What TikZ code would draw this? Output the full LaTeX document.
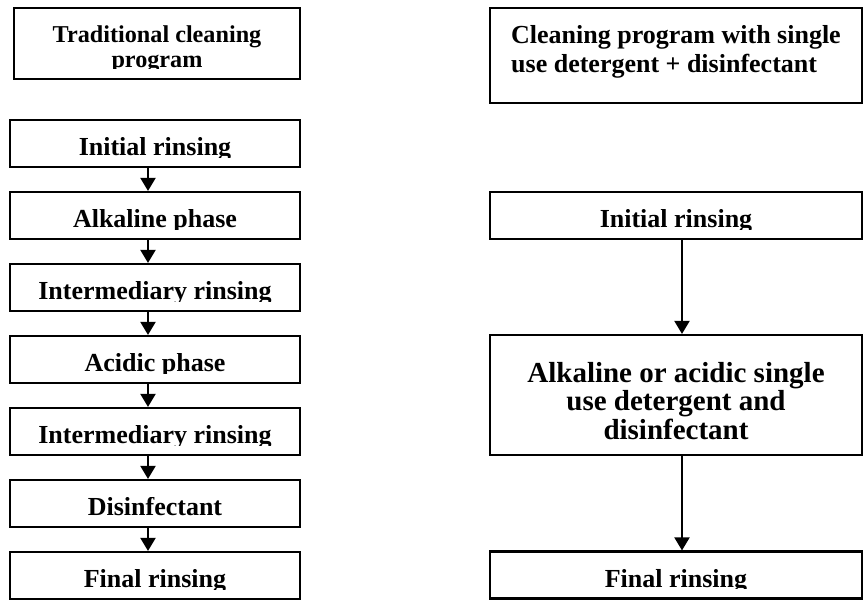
\documentclass[tikz,border=0pt]{standalone}
\usepackage{fontspec}
\setmainfont{Liberation Serif}
\usepackage{trimclip}
\usetikzlibrary{arrows.meta}
% text cut just below the baseline, as in the source boxes
\newcommand{\cutg}[1]{\clipbox{0pt .23em 0pt 0pt}{\rule[-.3em]{0pt}{0pt}#1}}
% several lines, with a set height above the first baseline and depth below it
\newcommand{\linesbox}[4]{\raisebox{0pt}[#1][#2]{\begin{tabular}[t]{@{}#3@{}}#4\end{tabular}}}

\begin{document}
\begin{tikzpicture}[x=0.5pt, y=-0.5pt]

\tikzset{
  box/.style={draw, line width=1.1pt, inner sep=0pt, minimum height=23.5pt,
    font=\bfseries\fontsize{13}{15}\selectfont, text height=12pt, text depth=0pt},
  lbox/.style={box, minimum width=145pt},
  rbox/.style={box, minimum width=186pt},
  head/.style={draw, line width=1.1pt, inner sep=0pt},
  arr/.style={-{Triangle[length=6.5pt,width=7.5pt]}, line width=1pt}
}

\useasboundingbox (0,0) rectangle (864,600);

% traditional program
\node[head, minimum width=143pt, minimum height=35.5pt,
  font=\bfseries\fontsize{12.1}{12.5}\selectfont] (tprog) at (157,43.5)
  {\linesbox{10pt}{11.5pt}{c}{Traditional cleaning\\\cutg{program}}};

\node[lbox] (ir) at (155,143.5) {\cutg{Initial rinsing}};
\node[lbox] (alk) at (155,215.5) {\cutg{Alkaline phase}};
\node[lbox] (mid1) at (155,287.5) {\cutg{Intermediary rinsing}};
\node[lbox] (acid) at (155,359.5) {\cutg{Acidic phase}};
\node[lbox] (mid2) at (155,431.5) {\cutg{Intermediary rinsing}};
\node[lbox] (dis) at (155,503.5) {\cutg{Disinfectant}};
\node[lbox] (fr) at (155,575.5) {\cutg{Final rinsing}};

\draw[arr] ([xshift=-3.5pt]ir.south) -- ([xshift=-3.5pt]alk.north);
\draw[arr] ([xshift=-3.5pt]alk.south) -- ([xshift=-3.5pt]mid1.north);
\draw[arr] ([xshift=-3.5pt]mid1.south) -- ([xshift=-3.5pt]acid.north);
\draw[arr] ([xshift=-3.5pt]acid.south) -- ([xshift=-3.5pt]mid2.north);
\draw[arr] ([xshift=-3.5pt]mid2.south) -- ([xshift=-3.5pt]dis.north);
\draw[arr] ([xshift=-3.5pt]dis.south) -- ([xshift=-3.5pt]fr.north);

% single use program
\node[head, minimum width=186pt, minimum height=47.5pt,
  font=\bfseries\fontsize{13}{14.5}\selectfont] (sprog) at (676,55.5)
  {\linesbox{10pt}{22.5pt}{l}{Cleaning program with single\\use detergent + disinfectant}};

\node[rbox] (ir2) at (676,215.5) {\cutg{Initial rinsing}};
\node[rbox, minimum height=60pt, text height=, text depth=,
  font=\bfseries\fontsize{14.5}{13.9}\selectfont] (comb) at (676,395)
  {\linesbox{10pt}{23pt}{c}{Alkaline or acidic single\\use detergent and\\disinfectant}};
\node[rbox] (fr2) at (676,575) {\cutg{Final rinsing}};

\draw[arr] ([xshift=3pt]ir2.south) -- ([xshift=3pt]comb.north);
\draw[arr] ([xshift=3pt]comb.south) -- ([xshift=3pt]fr2.north);

\end{tikzpicture}
\end{document}
